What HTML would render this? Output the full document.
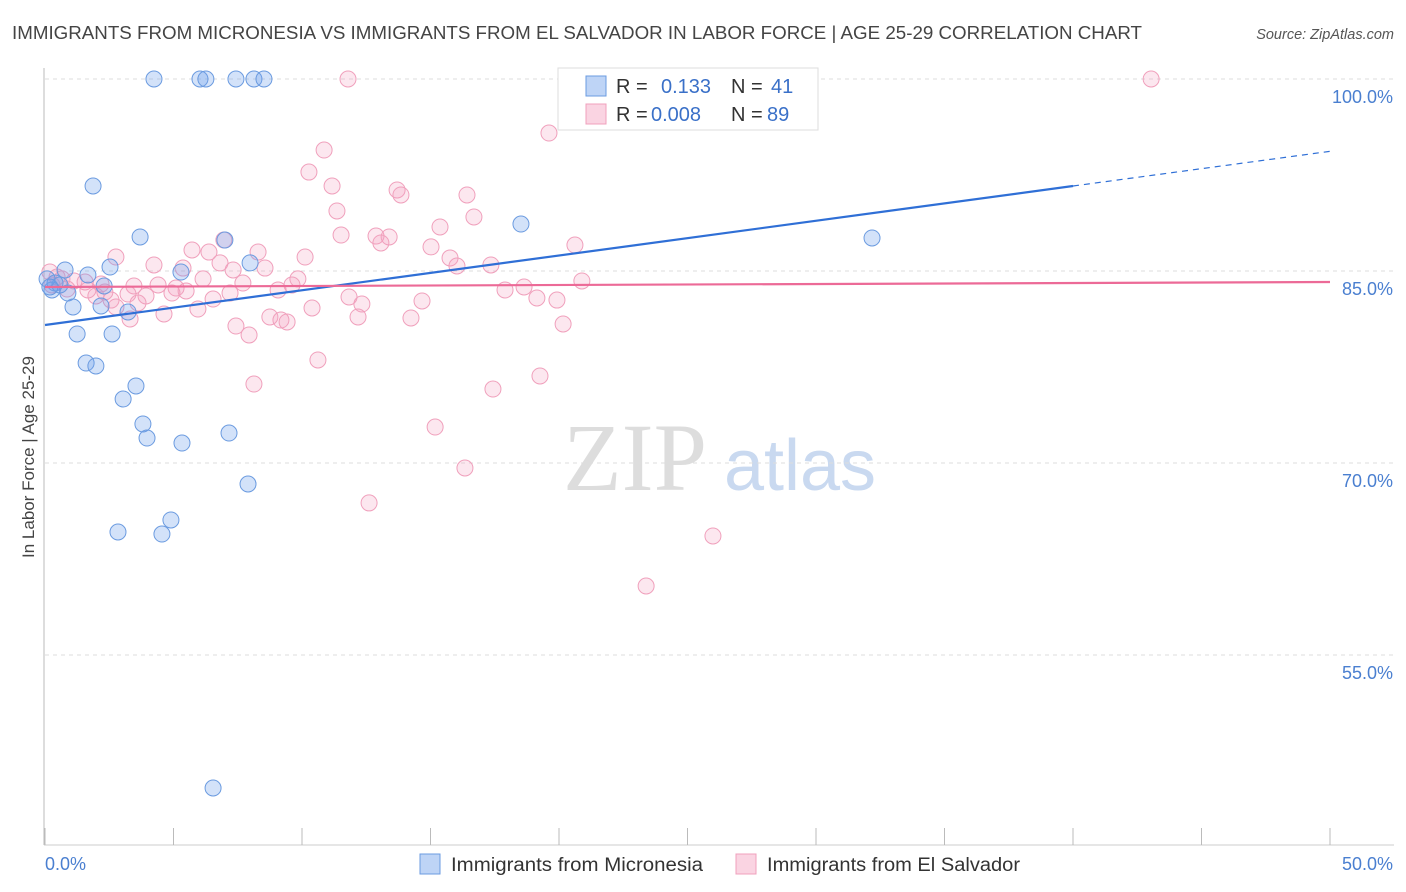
<!DOCTYPE html>
<html><head><meta charset="utf-8"><style>
body{margin:0;background:#fff;font-family:"Liberation Sans",sans-serif;}
svg{display:block}
</style></head><body>
<svg width="1406" height="892">
<text x="12" y="39" font-size="18" fill="#444" textLength="1130" lengthAdjust="spacingAndGlyphs">IMMIGRANTS FROM MICRONESIA VS IMMIGRANTS FROM EL SALVADOR IN LABOR FORCE | AGE 25-29 CORRELATION CHART</text>
<text x="1394" y="39" font-size="14.5" fill="#555" font-style="italic" text-anchor="end">Source: ZipAtlas.com</text>
<text x="635" y="490" font-size="96" fill="#ddd" text-anchor="middle" font-family="Liberation Serif,serif">ZIP</text>
<text x="800" y="490" font-size="72" fill="#c9d9f0" text-anchor="middle">atlas</text>
<g id="grid"></g>
<g id="axes"></g>
<g id="marks"></g>
<text transform="translate(34,457) rotate(-90)" font-size="17" fill="#444" text-anchor="middle">In Labor Force | Age 25-29</text>
<g>
<rect x="558" y="68" width="260" height="62" fill="#fff" stroke="#ddd"/>
<rect x="586" y="76" width="20" height="20" fill="rgba(110,160,235,0.45)" stroke="#6b9be0"/>
<rect x="586" y="104" width="20" height="20" fill="rgba(245,160,190,0.45)" stroke="#f0a0bc"/>
<text x="616" y="93" font-size="20" fill="#333">R =</text><text x="661" y="93" font-size="20" fill="#3a70c8">0.133</text><text x="731" y="93" font-size="20" fill="#333">N =</text><text x="771" y="93" font-size="20" fill="#3a70c8">41</text>
<text x="616" y="121" font-size="20" fill="#333">R =</text><text x="651" y="121" font-size="20" fill="#3a70c8">0.008</text><text x="731" y="121" font-size="20" fill="#333">N =</text><text x="767" y="121" font-size="20" fill="#3a70c8">89</text>
</g>
<g>
<rect x="420" y="854" width="20" height="20" fill="rgba(110,160,235,0.45)" stroke="#6b9be0"/>
<text x="451" y="871" font-size="19" fill="#333" textLength="252" lengthAdjust="spacingAndGlyphs">Immigrants from Micronesia</text>
<rect x="736" y="854" width="20" height="20" fill="rgba(245,160,190,0.45)" stroke="#f0a0bc"/>
<text x="767" y="871" font-size="19" fill="#333" textLength="253" lengthAdjust="spacingAndGlyphs">Immigrants from El Salvador</text>
</g>
</svg>
<script>
const blueX=[4.24,6.03,6.26,7.43,8.13,8.52,1.87,3.70,18.52,32.18,7.00,2.53,0.78,1.67,5.29,7.98,0.39,0.27,0.89,1.09,2.18,2.30,3.23,1.25,2.61,1.60,1.98,3.54,3.04,3.81,3.97,5.33,7.16,7.90,4.90,2.84,4.55,6.54,0.58,0.08,0.19];
const blueY=[100,100,100,100,100,100,91.64,87.66,88.67,87.58,87.42,85.31,85.08,84.69,84.92,85.63,84.06,83.52,83.28,82.19,82.27,83.83,81.80,80.08,80.08,77.81,77.58,76.02,75.0,73.05,71.95,71.56,72.34,68.36,65.55,64.61,64.45,44.61,83.91,84.38,83.75];
const pinkX=[11.79,43.04,19.61,10.86,10.27,11.17,13.70,13.85,16.42,11.36,16.69,15.37,11.52,12.88,13.39,13.07,15.02,20.62,2.76,5.72,6.38,8.29,10.12,15.76,4.24,6.81,8.56,16.03,17.35,6.15,9.84,9.61,7.70,20.89,0.19,0.47,1.13,1.56,2.18,3.46,4.40,5.10,5.49,4.94,7.20,9.07,17.90,18.64,1.98,3.23,3.93,2.57,3.62,6.54,11.83,14.67,19.14,19.92,12.33,5.95,4.63,10.39,3.31,8.75,9.18,9.42,12.18,14.24,20.16,7.43,7.94,10.62,19.26,8.13,17.43,15.18,16.34,12.61,25.99,23.39,0.27,0.86,1.67,2.33,2.76,6.96,7.32,5.37,0.66];
const pinkY=[100,100,95.78,94.45,92.73,91.64,91.33,90.94,90.94,89.69,89.22,88.44,87.81,87.73,87.66,87.19,86.88,87.03,86.09,86.64,86.48,86.48,86.09,86.02,85.47,85.63,85.23,85.39,85.47,84.38,84.38,83.91,84.06,84.22,84.92,84.53,84.22,84.14,83.98,83.83,83.91,83.67,83.44,83.28,83.28,83.52,83.52,83.75,83.05,83.20,83.05,82.73,82.50,82.81,82.97,82.66,82.89,82.73,82.42,82.03,81.64,82.11,81.25,81.41,81.17,81.02,81.41,81.33,80.86,80.70,80.0,78.05,76.80,76.17,75.78,72.81,69.61,66.88,64.30,60.39,83.91,83.59,83.52,83.36,82.19,87.42,85.08,85.23,84.38];
const yTicks=[100,85,70,55];
const yTickLabels=["100.0%","85.0%","70.0%","55.0%"];
const xTicks=[0,5,10,15,20,25,30,35,40,45,50];
const blueTrend=[80.78,91.64,94.35];
const blueTrendX=[0,40,50];
const pinkTrend=[83.75,84.14];
const pinkTrendX=[0,50];
const NS="http://www.w3.org/2000/svg";
const sx=v=>45+v*25.7;
const sy=v=>79+(100-v)*12.8;
function mk(tag,attrs,parent){const e=document.createElementNS(NS,tag);for(const k in attrs)e.setAttribute(k,attrs[k]);document.getElementById(parent).appendChild(e);return e;}
yTicks.forEach((t,i)=>{
 const l=mk('line',{x1:45,x2:1394,y1:sy(t),y2:sy(t),stroke:'#ddd','stroke-dasharray':'4,4'},'grid');
 
 
 const tx=mk('text',{x:1393,y:sy(t)+24,'font-size':18,fill:'#4a7fd0','text-anchor':'end'},'grid');
 tx.textContent=yTickLabels[i];
 
 
});
const ya=mk('line',{x1:44,x2:44,y1:68,y2:845,stroke:'#bbb'},'axes');


const xa=mk('line',{x1:44,x2:1394,y1:845,y2:845,stroke:'#ccc'},'axes');


xTicks.forEach(t=>{
 const l=mk('line',{x1:sx(t),x2:sx(t),y1:828,y2:845,stroke:'#bbb'},'axes');
 
 
});
const xl0=mk('text',{x:45,y:870,'font-size':18,fill:'#4a7fd0'},'axes');xl0.textContent='0.0%';


const xl1=mk('text',{x:1393,y:870,'font-size':18,fill:'#4a7fd0','text-anchor':'end'},'axes');xl1.textContent='50.0%';


pinkX.forEach((x,i)=>{
 const c=mk('circle',{cx:sx(x),cy:sy(pinkY[i]),r:8,fill:'rgba(245,160,190,0.25)',stroke:'#f0a0bc','stroke-width':1},'marks');
 
 
});
blueX.forEach((x,i)=>{
 const c=mk('circle',{cx:sx(x),cy:sy(blueY[i]),r:8,fill:'rgba(110,160,235,0.3)',stroke:'#6b9be0','stroke-width':1},'marks');
 
 
});
const b1=mk('line',{x1:sx(blueTrendX[0]),y1:sy(blueTrend[0]),x2:sx(blueTrendX[1]),y2:sy(blueTrend[1]),stroke:'#2f6fd6','stroke-width':2.2},'marks');


const b2=mk('line',{x1:sx(blueTrendX[1]),y1:sy(blueTrend[1]),x2:sx(blueTrendX[2]),y2:sy(blueTrend[2]),stroke:'#2f6fd6','stroke-width':1.2,'stroke-dasharray':'6,5'},'marks');


const p1=mk('line',{x1:sx(pinkTrendX[0]),y1:sy(pinkTrend[0]),x2:sx(pinkTrendX[1]),y2:sy(pinkTrend[1]),stroke:'#ec6a97','stroke-width':2.2},'marks');


</script>
</body></html>
